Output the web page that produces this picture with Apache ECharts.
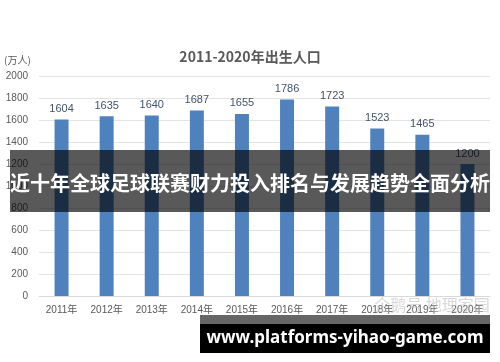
<!DOCTYPE html>
<html><head><meta charset="utf-8">
<script src="https://cdn.jsdelivr.net/npm/echarts@6/dist/echarts.min.js"></script>
<style>html,body{margin:0;padding:0;background:#fff}#c{width:500px;height:362px}</style>
</head><body><div id="c"></div>
<script>
var years = ['2011年','2012年','2013年','2014年','2015年','2016年','2017年','2018年','2019年','2020年'];
var births = [1604,1635,1640,1687,1655,1786,1723,1523,1465,1200];
var yTicks = {min:0, max:2000, interval:200};
var titleText = '2011-2020年出生人口';
var unitText = '(万人)';
var bannerText = '近十年全球足球联赛财力投入排名与发展趋势全面分析';
var urlText = 'www.platforms-yihao-game.com';
var watermarkText = '企鹅号 地理家园';

var chart = echarts.init(document.getElementById('c'), null, {renderer:'canvas'});
chart.setOption({
  animation:false,
  backgroundColor:'#fff',
  title:{text:titleText, left:'center', top:45, textStyle:{fontFamily:'Noto Sans CJK SC', fontWeight:'bold', fontSize:14, color:'#595959'}},
  grid:{left:39, right:10, top:76, bottom:66},
  xAxis:{type:'category', data:years,
    axisLine:{lineStyle:{color:'#d9d9d9'}}, axisTick:{show:false},
    axisLabel:{interval:0, color:'#595959', fontSize:10, margin:9, fontFamily:'Liberation Sans, Noto Sans CJK SC'}},
  yAxis:{type:'value', min:yTicks.min, max:yTicks.max, interval:yTicks.interval,
    axisLine:{show:false}, axisTick:{show:false},
    splitLine:{lineStyle:{color:'#e3e3e3'}},
    axisLabel:{color:'#595959', fontSize:10, margin:11, fontFamily:'Liberation Sans', formatter:function(v){return String(v);}}},
  series:[{type:'bar', data:births, barWidth:'31%',
    itemStyle:{color:'#4F81BD'},
    label:{show:true, position:'top', color:'#44546A', fontSize:11, fontFamily:'Liberation Sans'}}],
  graphic:[
    {type:'text', z:50, x:4, y:60, style:{text:unitText, fill:'#595959', font:'10px "Noto Sans CJK SC"', textAlign:'left', textVerticalAlign:'middle'}},
    {type:'rect', z:100, shape:{x:10,y:150,width:480,height:62}, style:{fill:'rgba(0,0,0,0.65)'}},
    {type:'text', z:101, x:250, y:183, style:{text:bannerText, fill:'#fff', font:'bold 20px "Noto Sans CJK SC"', textAlign:'center', textVerticalAlign:'middle'}},
    {type:'text', z:99, x:432, y:305, style:{text:watermarkText, fill:'rgba(190,190,190,0.6)', font:'16px "Noto Sans CJK SC"', textAlign:'center', textVerticalAlign:'middle'}},
    {type:'rect', z:100, shape:{x:200,y:315,width:290,height:9}, style:{fill:'rgba(0,0,0,0.6)'}},
    {type:'rect', z:100, shape:{x:200,y:324,width:290,height:29}, style:{fill:'#000'}},
    {type:'text', z:101, x:345, y:338, style:{text:urlText, fill:'#fff', font:'bold 17px "Noto Sans"', textAlign:'center', textVerticalAlign:'middle'}}
  ]
});
</script></body></html>
